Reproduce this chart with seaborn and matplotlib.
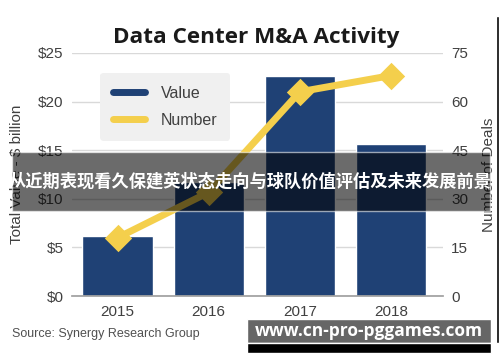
import matplotlib
matplotlib.use("Agg")
import matplotlib.pyplot as plt
import seaborn as sns
import pandas as pd
from matplotlib.lines import Line2D
from matplotlib.patches import Rectangle

years = ["2015", "2016", "2017", "2018"]
value = [6.2, 11.7, 22.6, 15.6]
number = [18, 32, 63, 68]
left_ticks = [0, 5, 10, 15, 20, 25]
left_labels = ["$0", "$5", "$10", "$15", "$20", "$25"]
right_ticks = [0, 15, 30, 45, 60, 75]

navy = "#1f4175"
yellow = "#f4cf4c"
txt = "#404040"

sns.set_theme(style="white")
plt.rcParams["font.family"] = ["Liberation Sans", "DejaVu Sans"]

df = pd.DataFrame({"year": years, "value": value, "number": number})

fig = plt.figure(figsize=(5, 3.62), dpi=100)
ax = fig.add_axes([0.144, 0.182, 0.742, 0.672])
sns.barplot(data=df, x="year", y="value", color=navy, saturation=1, width=0.77, ax=ax, zorder=2)
ax.set_ylim(0, 25)
ax.set_yticks(left_ticks)
ax.set_yticklabels(left_labels, fontsize=11, color=txt)
ax.grid(axis="y", color="#d9d9d9", lw=1, zorder=0)
ax.set_axisbelow(True)
for s in ["top", "right", "left"]:
    ax.spines[s].set_visible(False)
ax.spines["bottom"].set_color("#a0a0a0")
ax.tick_params(axis="both", length=0, pad=6)
ax.tick_params(axis="x", labelsize=11, labelcolor=txt, pad=6.5)
ax.set_xlabel("")
ax.set_ylabel("Total Value - $ billion", fontsize=11, color=txt, labelpad=10)

ax2 = ax.twinx()
sns.pointplot(data=df, x="year", y="number", color=yellow, markers="D", linestyles="-",
              ax=ax2, markersize=10, linewidth=5, errorbar=None)
ax2.set_ylim(0, 75)
ax2.set_yticks(right_ticks)
ax2.set_yticklabels([str(t) for t in right_ticks], fontsize=11, color=txt)
ax2.tick_params(axis="y", length=0, pad=6)
for s in ["top", "right", "left", "bottom"]:
    ax2.spines[s].set_visible(False)
ax2.set_ylabel("Number of Deals", fontsize=11, color=txt, labelpad=10)
ax2.set_xlabel("")
ax.set_xlim(-0.5, 3.57)
ax2.set_xlim(-0.5, 3.57)

handles = [Line2D([], [], color=navy, lw=5), Line2D([], [], color=yellow, lw=5)]
leg = ax2.legend(handles, ["Value", "Number"], loc="upper left", bbox_to_anchor=(0.055, 0.95),
                 frameon=True, fontsize=11.5, handlelength=2.0, borderpad=0.8, labelspacing=0.75,
                 handletextpad=1.0)
leg.get_frame().set_facecolor("#f0f0f0")
leg.get_frame().set_edgecolor("none")
leg.get_frame().set_alpha(1)
for t in leg.get_texts():
    t.set_color(txt)

fig.text(0.512, 0.897, "Data Center M&A Activity", ha="center", va="center",
         fontsize=16.2, fontweight="bold", color="#1a1a1a", family=["Open Sans", "DejaVu Sans"])
fig.text(0.024, 1 - 334 / 362, "Source: Synergy Research Group", ha="left", va="center",
         fontsize=9, color="#505050")

W, H = 500, 362
def rect(x0, y0, x1, y1, **kw):
    fig.patches.append(Rectangle((x0 / W, 1 - y1 / H), (x1 - x0) / W, (y1 - y0) / H,
                                 transform=fig.transFigure, figure=fig, **kw))

rect(12, 152, 490, 211, facecolor="black", alpha=0.58, zorder=10)
fig.text(250 / W, 1 - 182 / H, "从近期表现看久保建英状态走向与球队价值评估及未来发展前景",
         ha="center", va="center", fontsize=12.4, fontweight="bold", color="white",
         family=["Noto Sans CJK SC", "DejaVu Sans"], zorder=11)

rect(247, 319, 491, 343, facecolor="#666666", zorder=10)
rect(247, 343, 491, 353, facecolor="black", zorder=10)
rect(496, 16, 499, 343, facecolor="black", zorder=10)
fig.text(369 / W, 1 - 331 / H, "www.cn-pro-pggames.com", ha="center", va="center",
         fontsize=12.5, fontweight="bold", color="white",
         family=["Open Sans", "DejaVu Sans"], zorder=11)

fig.savefig("out.png", dpi=100)
